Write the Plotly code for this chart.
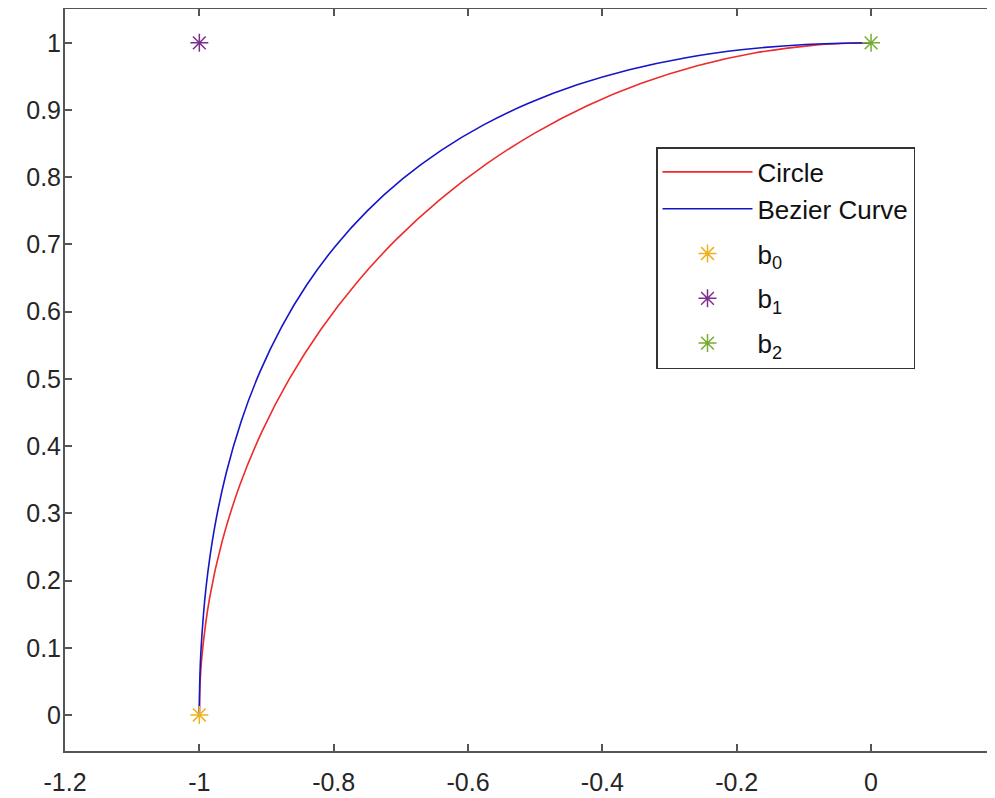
import plotly.graph_objects as go

# Circle (quarter circle)
circle_x = [-1.0, -0.99905, -0.99619, -0.98481, -0.96593, -0.93969, -0.90631, -0.86603,
            -0.81915, -0.76604, -0.70711, -0.64279, -0.57358, -0.5, -0.42262, -0.34202,
            -0.25882, -0.17365, -0.08716, -0.04362, 0.0]
circle_y = [0.0, 0.04362, 0.08716, 0.17365, 0.25882, 0.34202, 0.42262, 0.5,
            0.57358, 0.64279, 0.70711, 0.76604, 0.81915, 0.86603, 0.90631, 0.93969,
            0.96593, 0.98481, 0.99619, 0.99905, 1.0]

# Bezier curve
bezier_x = [-1.0, -0.99938, -0.9975, -0.99, -0.9775, -0.96, -0.9375, -0.91, -0.8775, -0.84,
            -0.7975, -0.75, -0.6975, -0.64, -0.5775, -0.51, -0.4375, -0.36,
            -0.2775, -0.19, -0.0975, 0.0]
bezier_y = [0.0, 0.04938, 0.0975, 0.19, 0.2775, 0.36, 0.4375, 0.51, 0.5775, 0.64,
            0.6975, 0.75, 0.7975, 0.84, 0.8775, 0.91, 0.9375, 0.96,
            0.9775, 0.99, 0.9975, 1.0]

# Control points
point_names = ["b<sub>0</sub>", "b<sub>1</sub>", "b<sub>2</sub>"]
point_x = [-1.0, -1.0, 0.0]
point_y = [0.0, 1.0, 1.0]
point_colors = ["#EDB120", "#7E2F8E", "#77AC30"]

x_ticks = [-1.2, -1.0, -0.8, -0.6, -0.4, -0.2, 0.0]
x_tick_labels = ["-1.2", "-1", "-0.8", "-0.6", "-0.4", "-0.2", "0"]
y_ticks = [0, 0.1, 0.2, 0.3, 0.4, 0.5, 0.6, 0.7, 0.8, 0.9, 1.0]
y_tick_labels = ["0", "0.1", "0.2", "0.3", "0.4", "0.5", "0.6", "0.7", "0.8", "0.9", "1"]

FONT = "Liberation Sans, Arial, sans-serif"
AXIS_COLOR = "#555555"

fig = go.Figure()
fig.add_trace(go.Scatter(x=circle_x, y=circle_y, mode="lines", name="Circle", legendgroup="curves",
                         line=dict(color="#EE2A2A", width=1.6, shape="spline")))
fig.add_trace(go.Scatter(x=bezier_x, y=bezier_y, mode="lines", name="Bezier Curve", legendgroup="curves",
                         line=dict(color="#1515C8", width=1.6, shape="spline")))
for nm, px, py, c in zip(point_names, point_x, point_y, point_colors):
    fig.add_trace(go.Scatter(x=[px], y=[py], mode="markers", name=nm, legendgroup=nm,
                             marker=dict(symbol="asterisk-open", size=15,
                                         color=c, line=dict(color=c, width=1.5))))

# The page body has an 8px default margin; the figure is sized so it fits the window exactly.
fig.update_layout(
    width=987, height=790,
    margin=dict(l=57, r=0, t=1, b=47, autoexpand=False),
    paper_bgcolor="white", plot_bgcolor="white",
    font=dict(family=FONT, size=25, color="#262626"),
    showlegend=True,
    legend=dict(x=(656 - 65) / 930, y=1 - (147 - 9) / 742, xanchor="left", yanchor="top",
                bgcolor="white", bordercolor="#333333", borderwidth=1.5,
                font=dict(family=FONT, size=26, color="#111111"),
                itemwidth=90, tracegroupgap=8),
)
fig.update_xaxes(range=[-1.2, 0.1845], tickvals=x_ticks, ticktext=x_tick_labels,
                 automargin=False,
                 showgrid=False, zeroline=False, showline=True, linecolor=AXIS_COLOR,
                 linewidth=2, mirror="ticks", ticks="inside", ticklen=7, tickwidth=2,
                 tickcolor=AXIS_COLOR, ticklabelstandoff=8,
                 tickfont=dict(family=FONT, size=25, color="#262626"))
fig.update_yaxes(range=[-0.0536, 1.0503], tickvals=y_ticks, ticktext=y_tick_labels,
                 automargin=False,
                 showgrid=False, zeroline=False, showline=True, linecolor=AXIS_COLOR,
                 linewidth=2, mirror=False, ticks="inside", ticklen=7, tickwidth=2,
                 tickcolor=AXIS_COLOR, ticklabelstandoff=-3,
                 tickfont=dict(family=FONT, size=25, color="#262626"))

fig.write_html("out.html")
